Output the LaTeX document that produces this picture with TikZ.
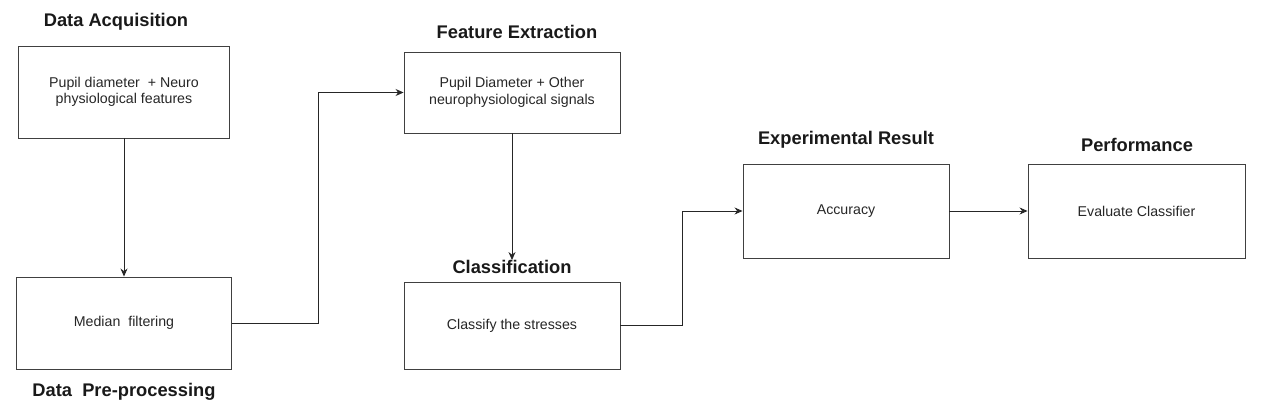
\documentclass[tikz,border=0pt]{standalone}
\usepackage{fontspec}
\setmainfont{Liberation Sans}
\usetikzlibrary{arrows.meta,positioning}
\begin{document}
\begin{tikzpicture}[x=1pt,y=-1pt,
  boxnode/.style={draw=black!75,line width=0.9pt,inner sep=0pt,align=center,font=\fontsize{14.2}{16.5}\selectfont,text=black!85},
  titlenode/.style={font=\bfseries\fontsize{18.3}{21}\selectfont,text=black!90,inner sep=0pt},
  conn/.style={draw=black!85,line width=0.9pt,-{Stealth[length=8pt,width=7pt]}}]
\useasboundingbox (0,0) rectangle (1274,409);
% boxes
\node[boxnode,minimum width=211pt,minimum height=92pt] (b1) at (124,92) {Pupil diameter~ + Neuro\\physiological features};
\node[boxnode,minimum width=215pt,minimum height=92pt] (b2) at (124,323) {Median~ filtering};
\node[boxnode,minimum width=216pt,minimum height=81pt] (b3) at (512,92.5) {Pupil Diameter + Other\\neurophysiological signals};
\node[boxnode,minimum width=216pt,minimum height=87pt] (b4) at (512,325.5) {Classify the stresses};
\node[boxnode,minimum width=206pt,minimum height=94pt] (b5) at (846,211) {Accuracy};
\node[boxnode,minimum width=217pt,minimum height=94pt] (b6) at (1136.5,211) {Evaluate Classifier};
% titles
\node[titlenode] (t1) at (116,22) {Data Acquisition};
\node[titlenode] (t2) at (124,392) {Data~ Pre-processing};
\node[titlenode] (t3) at (517,32) {Feature Extraction};
\node[titlenode] (t4) at (512,267) {Classification};
\node[titlenode] (t5) at (846,140) {Experimental Result};
\node[titlenode] (t6) at (1137,145) {Performance};
% connectors
\coordinate (c1) at (318,323);
\coordinate (c2) at (318,92.5);
\coordinate (c3) at (682,325.5);
\coordinate (c4) at (682,211);
\draw[conn] (b1.south) -- (b2.north);
\draw[conn] (b2.east) -- (c1) -- (c2) -- (b3.west);
\draw[conn] (b3.south) -- (t4.north);
\draw[conn] (b4.east) -- (c3) -- (c4) -- (b5.west);
\draw[conn] (b5.east) -- (b6.west);
\end{tikzpicture}
\end{document}
